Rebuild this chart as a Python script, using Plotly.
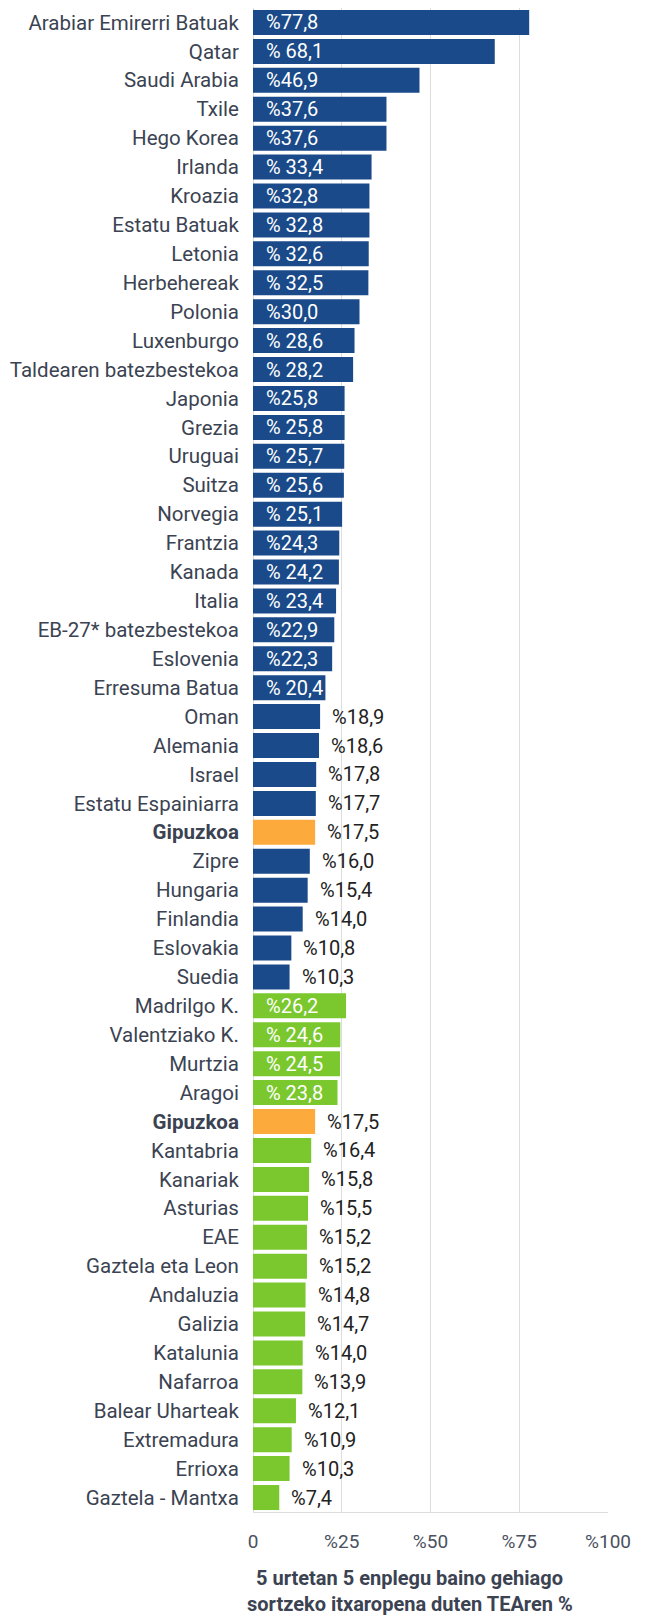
import plotly.graph_objects as go

names = ["Arabiar Emirerri Batuak", "Qatar", "Saudi Arabia", "Txile", "Hego Korea",
         "Irlanda", "Kroazia", "Estatu Batuak", "Letonia", "Herbehereak", "Polonia",
         "Luxenburgo", "Taldearen batezbestekoa", "Japonia", "Grezia", "Uruguai",
         "Suitza", "Norvegia", "Frantzia", "Kanada", "Italia", "EB-27* batezbestekoa",
         "Eslovenia", "Erresuma Batua", "Oman", "Alemania", "Israel",
         "Estatu Espainiarra", "Gipuzkoa", "Zipre", "Hungaria", "Finlandia",
         "Eslovakia", "Suedia",
         "Madrilgo K.", "Valentziako K.", "Murtzia", "Aragoi", "Gipuzkoa",
         "Kantabria", "Kanariak", "Asturias", "EAE", "Gaztela eta Leon", "Andaluzia",
         "Galizia", "Katalunia", "Nafarroa", "Balear Uharteak", "Extremadura",
         "Errioxa", "Gaztela - Mantxa"]

values = [77.8, 68.1, 46.9, 37.6, 37.6, 33.4, 32.8, 32.8, 32.6, 32.5, 30.0,
          28.6, 28.2, 25.8, 25.8, 25.7, 25.6, 25.1, 24.3, 24.2, 23.4, 22.9,
          22.3, 20.4, 18.9, 18.6, 17.8, 17.7, 17.5, 16.0, 15.4, 14.0, 10.8, 10.3,
          26.2, 24.6, 24.5, 23.8, 17.5, 16.4, 15.8, 15.5, 15.2, 15.2, 14.8,
          14.7, 14.0, 13.9, 12.1, 10.9, 10.3, 7.4]

labels = ["%77,8", "% 68,1", "%46,9", "%37,6", "%37,6", "% 33,4", "%32,8", "% 32,8",
          "% 32,6", "% 32,5", "%30,0", "% 28,6", "% 28,2", "%25,8", "% 25,8", "% 25,7",
          "% 25,6", "% 25,1", "%24,3", "% 24,2", "% 23,4", "%22,9", "%22,3", "% 20,4",
          "%18,9", "%18,6", "%17,8", "%17,7", "%17,5", "%16,0", "%15,4", "%14,0",
          "%10,8", "%10,3",
          "%26,2", "% 24,6", "% 24,5", "% 23,8", "%17,5", "%16,4", "%15,8", "%15,5",
          "%15,2", "%15,2", "%14,8", "%14,7", "%14,0", "%13,9", "%12,1", "%10,9",
          "%10,3", "%7,4"]

groups = ["country"] * 34 + ["region"] * 18

x_ticks = [0, 25, 50, 75, 100]
x_ticktext = ["0", "%25", "%50", "%75", "%100"]

title_lines = ["5 urtetan 5 enplegu baino gehiago",
               "sortzeko itxaropena duten TEAren %"]

BLUE = "#1a4a89"
GREEN = "#7ac82e"
ORANGE = "#fdaa3c"
FONT = "Roboto"
LABEL_SIZE = 20.5

# the page body adds an 8px margin, so the figure is sized to fit inside it
W, H = 638, 1611
M_L, M_R, M_T, M_B = 245, 38, 0, 107
plot_h = H - M_T - M_B

colors = []
for n, g in zip(names, groups):
    if n == "Gipuzkoa":
        colors.append(ORANGE)
    elif g == "country":
        colors.append(BLUE)
    else:
        colors.append(GREEN)

ypos = list(range(len(names)))
ticktext = ["<b>%s</b>" % n if n == "Gipuzkoa" else n for n in names]

fig = go.Figure(go.Bar(
    x=values, y=ypos, orientation="h",
    marker=dict(color=colors, line=dict(width=0)),
    hoverinfo="skip",
))

annotations = []
for yi, v, t in zip(ypos, values, labels):
    if v >= 20:
        annotations.append(dict(x=0, y=yi, xref="x", yref="y", text=t, showarrow=False,
                                xanchor="left", xshift=11,
                                font=dict(family=FONT, size=20, color="white")))
    else:
        annotations.append(dict(x=v, y=yi, xref="x", yref="y", text=t, showarrow=False,
                                xanchor="left", xshift=10,
                                font=dict(family=FONT, size=20, color="#222222")))

# two title lines, centres placed in pixels below the plot area
for line, ypix in zip(title_lines, [1570, 1596]):
    annotations.append(dict(x=0.442, y=-(ypix - (H - M_B)) / plot_h,
                            xref="paper", yref="paper", text="<b>%s</b>" % line,
                            showarrow=False, xanchor="center", yanchor="middle",
                            borderpad=0,
                            font=dict(family=FONT, size=20, color="#3b4352")))

fig.update_layout(
    width=W, height=H,
    margin=dict(l=M_L, r=M_R, t=M_T, b=M_B),
    paper_bgcolor="white", plot_bgcolor="white",
    bargap=0.135,
    showlegend=False,
    annotations=annotations,
    font=dict(family=FONT),
    xaxis=dict(range=[0, 100], tickvals=x_ticks, ticktext=x_ticktext,
               showgrid=True, gridcolor="#dddddd", gridwidth=1,
               zeroline=True, zerolinecolor="#dddddd", zerolinewidth=1,
               showline=True, linecolor="#dddddd", linewidth=1,
               ticks="", ticklabelstandoff=12, automargin=False,
               tickfont=dict(family=FONT, size=19, color="#4a5160"),
               fixedrange=True),
    yaxis=dict(tickvals=ypos, ticktext=ticktext, range=[len(names) - 0.5, -0.5],
               showgrid=False, zeroline=False, showline=False, automargin=False,
               ticks="outside", ticklen=9, tickcolor="rgba(0,0,0,0)",
               tickfont=dict(family=FONT, size=LABEL_SIZE, color="#3b4352"),
               fixedrange=True),
)

fig.write_html("out.html")
